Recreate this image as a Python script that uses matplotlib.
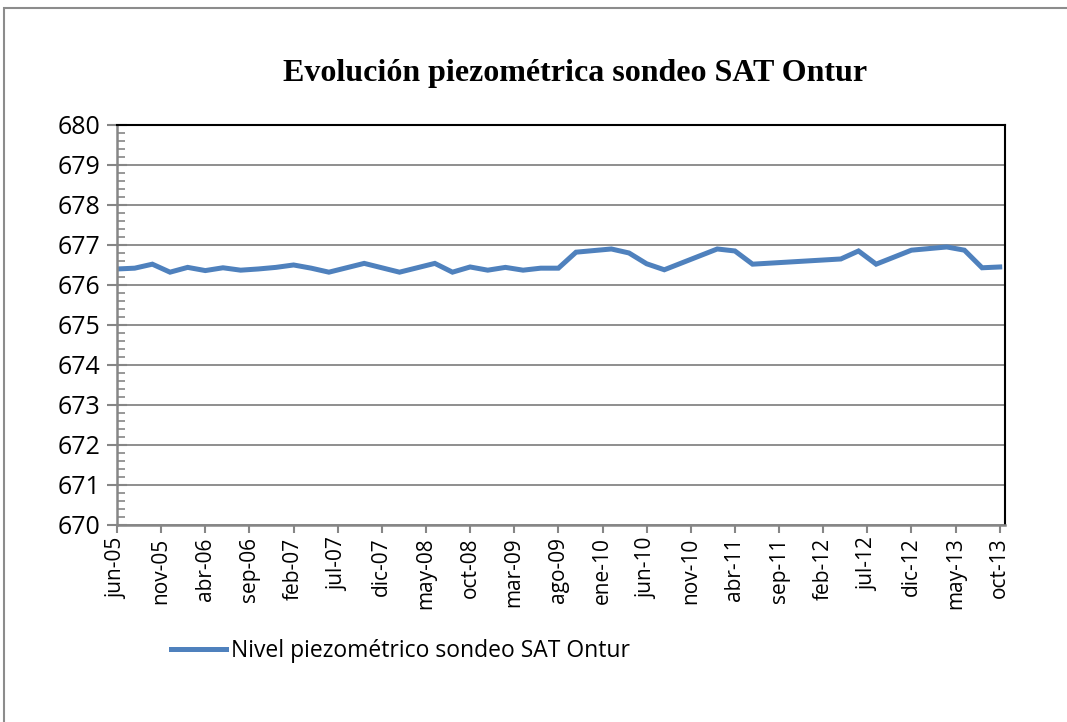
import matplotlib
matplotlib.use('Agg')
import matplotlib.pyplot as plt
from matplotlib.patches import Rectangle
from matplotlib.ticker import MultipleLocator

# Meses desde jun-05 y nivel piezométrico (m s.n.m.)
meses = [0, 2, 4, 6, 8, 10, 12, 14, 16, 18, 20, 22, 24, 28, 32, 36, 38, 40,
         42, 44, 46, 48, 50, 52, 56, 58, 60, 62, 68, 70, 72, 82, 84, 86, 90,
         94, 96, 98, 100]
nivel = [676.40, 676.42, 676.52, 676.32, 676.44, 676.36, 676.43, 676.37,
         676.40, 676.44, 676.50, 676.42, 676.32, 676.54, 676.32, 676.54,
         676.32, 676.45, 676.37, 676.44, 676.37, 676.42, 676.42, 676.82,
         676.90, 676.80, 676.53, 676.38, 676.90, 676.85, 676.52, 676.65,
         676.85, 676.52, 676.87, 676.95, 676.87, 676.43, 676.45]

etiquetas = ['jun-05', 'nov-05', 'abr-06', 'sep-06', 'feb-07', 'jul-07',
             'dic-07', 'may-08', 'oct-08', 'mar-09', 'ago-09', 'ene-10',
             'jun-10', 'nov-10', 'abr-11', 'sep-11', 'feb-12', 'jul-12',
             'dic-12', 'may-13', 'oct-13']
pos_etiquetas = list(range(0, 101, 5))

titulo = 'Evolución piezométrica sondeo SAT Ontur'
serie = 'Nivel piezométrico sondeo SAT Ontur'

#---------------------------------------------------------------
fig = plt.figure(figsize=(10.67, 7.22), dpi=100)
ax = fig.add_axes([0.1097, 0.2729, 0.8322, 0.554])

# marco exterior
fig.patches.append(Rectangle((4/1067, -0.05), 1.1, 1 - 8/722 + 0.05,
                             transform=fig.transFigure, fill=False,
                             edgecolor='#8c8c8c', lw=1.5))

ax.plot(meses, nivel, color='#4F81BD', lw=3.6, label=serie,
        solid_joinstyle='miter')

ax.set_xlim(0, 100.6)
ax.set_ylim(670, 680)
ax.yaxis.set_major_locator(MultipleLocator(1))
ax.yaxis.set_minor_locator(MultipleLocator(0.2))
ax.set_xticks(pos_etiquetas)
ax.set_xticklabels(etiquetas, rotation=90)
ax.grid(axis='y', color='#868686', lw=1.3)
ax.set_axisbelow(True)

for s in ['top', 'right']:
    ax.spines[s].set_color('black')
    ax.spines[s].set_linewidth(1.5)
for s in ['left', 'bottom']:
    ax.spines[s].set_color('#868686')
    ax.spines[s].set_linewidth(1.8)

fuente = 'Open Sans'
ax.tick_params(axis='y', which='major', direction='inout', length=14,
               width=1.5, color='#868686', labelsize=18, pad=5)
ax.tick_params(axis='y', which='minor', direction='in', length=6,
               width=1.2, color='#868686')
ax.tick_params(axis='x', which='major', direction='out', length=6,
               width=1.5, color='#868686', labelsize=15, pad=3)
for lab in ax.get_xticklabels() + ax.get_yticklabels():
    lab.set_fontfamily(fuente)

fig.text(0.539, 0.898, titulo, ha='center', va='center',
         fontfamily='Liberation Serif', fontweight='bold', fontsize=23)

fig.legend(loc='center left', bbox_to_anchor=(0.141, 0.098), frameon=False,
           prop={'family': fuente, 'size': 16.5}, handlelength=2.4,
           handletextpad=0.2)

fig.savefig('out.png', dpi=100)
